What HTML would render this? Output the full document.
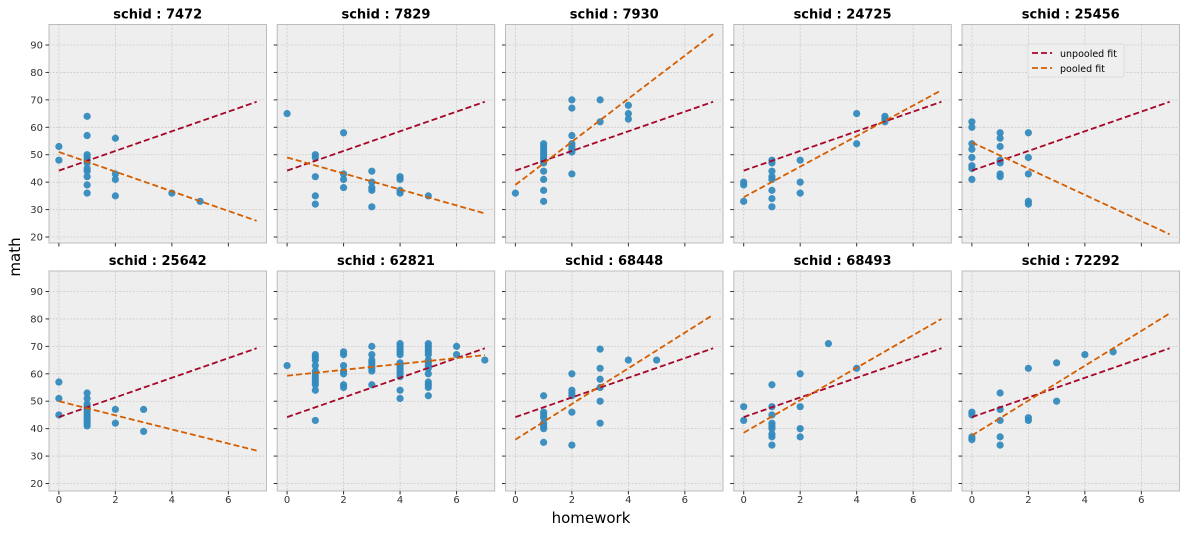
<!DOCTYPE html><html><head><meta charset="utf-8"><style>body{margin:0;background:#fff}svg{display:block;font-family:"DejaVu Sans","Liberation Sans",sans-serif}</style></head><body>
<svg id="s" width="1186" height="533" xmlns="http://www.w3.org/2000/svg"></svg>
<script>
const P=[
["7472",[[0,53],[0,48],[1,64],[1,57],[1,50],[1,49],[1,48],[1,47],[1,45],[1,44],[1,42],[1,39],[1,36],[2,56],[2,43],[2,41],[2,35],[4,36],[5,33]],51,25.9],
["7829",[[0,65],[1,50],[1,49],[1,42],[1,35],[1,32],[2,58],[2,43],[2,41],[2,38],[3,44],[3,40],[3,38],[3,37],[3,31],[4,42],[4,41],[4,37],[4,36],[5,35]],49,28.6],
["7930",[[0,36],[1,54],[1,53],[1,52],[1,51],[1,50],[1,49],[1,48],[1,47],[1,44],[1,41],[1,37],[1,33],[2,70],[2,67],[2,57],[2,54],[2,53],[2,52],[2,51],[2,43],[3,70],[3,62],[4,68],[4,65],[4,63]],39,94],
["24725",[[0,40],[0,39],[0,33],[1,48],[1,47],[1,44],[1,42],[1,41],[1,37],[1,34],[1,31],[2,48],[2,40],[2,36],[4,65],[4,54],[5,64],[5,63],[5,62]],34.5,73.5],
["25456",[[0,62],[0,60],[0,54],[0,52],[0,49],[0,46],[0,45],[0,41],[1,58],[1,56],[1,53],[1,48],[1,47],[1,43],[1,42],[2,58],[2,49],[2,43],[2,33],[2,32]],54.5,21],
["25642",[[0,57],[0,51],[0,45],[1,53],[1,51],[1,49],[1,48],[1,47],[1,46],[1,45],[1,44],[1,43],[1,42],[1,41],[2,47],[2,42],[3,47],[3,39]],50,32],
["62821",[[0,63],...[67,66,65,63,61,60,59,58,57,56,54,43].map(v=>[1,v]),...[68,67,63,61,60,56,55].map(v=>[2,v]),...[70,67,65,64,63,62,61,56].map(v=>[3,v]),...[71,70,69,68,67,64,63,62,61,60,59,54,51].map(v=>[4,v]),...[71,70,69,68,67,65,64,63,62,60,57,56,55,52].map(v=>[5,v]),[6,70],[6,67],[7,65]],59.3,66.8],
["68448",[[1,52],[1,46],[1,45],[1,44],[1,42],[1,41],[1,40],[1,35],[2,60],[2,54],[2,53],[2,52],[2,46],[2,34],[3,69],[3,62],[3,58],[3,55],[3,50],[3,42],[4,65],[5,65]],36,81.5],
["68493",[[0,48],[0,43],[1,56],[1,48],[1,45],[1,42],[1,41],[1,40],[1,38],[1,37],[1,34],[2,60],[2,48],[2,40],[2,37],[3,71],[4,62]],38.5,80],
["72292",[[0,46],[0,45],[0,37],[0,36],[1,53],[1,47],[1,43],[1,37],[1,34],[2,62],[2,44],[2,43],[3,64],[3,50],[4,67],[5,68]],37.5,82]];
const L=[49,277.2,505.5,733.8,962],W=217.5;let h='';
P.forEach((p,i)=>{const r=Math.floor(i/5),c=i%5,x0=L[c],top=r?271:24.5,bot=r?491:243;
const X=v=>x0+(v+0.35)*W/7.7,Y=v=>top+20.5+(90-v)*2.743;
h+=`<rect x="${x0}" y="${top}" width="${W}" height="${bot-top}" fill="#eeeeee" stroke="#bcbcbc" stroke-width="1"/>`;
for(let v=0;v<=6;v+=2){h+=`<line x1="${X(v)}" x2="${X(v)}" y1="${top}" y2="${bot}" stroke="#cbcbcb" stroke-width="0.8" stroke-dasharray="2,1.5"/><line x1="${X(v)}" x2="${X(v)}" y1="${bot}" y2="${bot+3.5}" stroke="#333"/>`;
 if(r)h+=`<text x="${X(v)}" y="${bot+12}" font-size="10" fill="#333" text-anchor="middle">${v}</text>`;}
for(let v=20;v<=90;v+=10){h+=`<line x1="${x0}" x2="${x0+W}" y1="${Y(v)}" y2="${Y(v)}" stroke="#cbcbcb" stroke-width="0.8" stroke-dasharray="2,1.5"/><line x1="${x0-3.5}" x2="${x0}" y1="${Y(v)}" y2="${Y(v)}" stroke="#333"/>`;
 if(!c)h+=`<text x="${x0-6}" y="${Y(v)+3.5}" font-size="10" fill="#333" text-anchor="end">${v}</text>`;}
p[1].forEach(q=>h+=`<circle cx="${X(q[0])}" cy="${Y(q[1])}" r="3.6" fill="#348ABD" fill-opacity="0.95"/>`);
h+=`<line x1="${X(0)}" y1="${Y(44.2)}" x2="${X(7)}" y2="${Y(69.3)}" stroke="#A60628" stroke-width="1.8" stroke-dasharray="6,3"/>`;
h+=`<line x1="${X(0)}" y1="${Y(p[2])}" x2="${X(7)}" y2="${Y(p[3])}" stroke="#D55E00" stroke-width="1.8" stroke-dasharray="6,3"/>`;
h+=`<text x="${x0+W/2}" y="${top-6}" font-size="13" font-weight="bold" text-anchor="middle">schid : ${p[0]}</text>`;});
h+=`<rect x="1028" y="44" width="96" height="33" rx="2" fill="#eeeeee" fill-opacity="0.9" stroke="#d8d8d8" stroke-width="0.8"/>
<line x1="1032" x2="1052" y1="53" y2="53" stroke="#A60628" stroke-width="1.8" stroke-dasharray="6,3"/><text x="1060" y="57" font-size="9.5">unpooled fit</text>
<line x1="1032" x2="1052" y1="68" y2="68" stroke="#D55E00" stroke-width="1.8" stroke-dasharray="6,3"/><text x="1060" y="72" font-size="9.5">pooled fit</text>
<text x="591" y="523" font-size="15" text-anchor="middle">homework</text>
<text transform="translate(20,257) rotate(-90)" font-size="15" text-anchor="middle">math</text>`;
document.getElementById('s').innerHTML=h;
</script></body></html>
